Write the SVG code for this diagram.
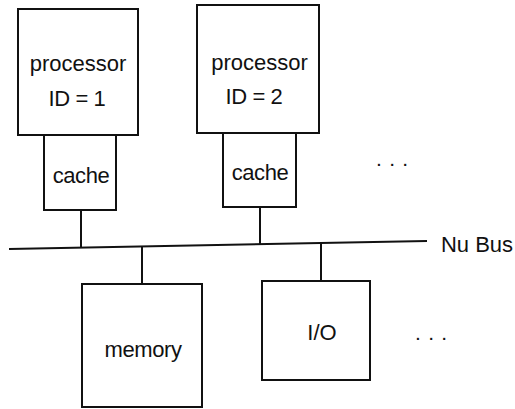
<svg xmlns="http://www.w3.org/2000/svg" width="515" height="409" viewBox="0 0 515 409">
  <style>
    .box { fill: #ffffff; stroke: #111111; stroke-width: 2; }
    .wire { fill: none; stroke: #111111; stroke-width: 2; }
    .label { font-family: "Liberation Sans", Arial, Helvetica, sans-serif; font-size: 22px; fill: #111111; text-anchor: middle; }
    .tight { letter-spacing: -0.4px; }
    .dots { font-family: "Liberation Sans", Arial, Helvetica, sans-serif; font-size: 21px; fill: #111111; letter-spacing: 7.3px; }
  </style>
  <rect width="515" height="409" fill="#ffffff"/>

  <!-- bus and the links from each unit onto it -->
  <g id="connectors">
    <line id="nubus" class="wire" x1="9" y1="249" x2="427" y2="241"/>
    <line class="wire" x1="81" y1="210" x2="81" y2="247.5"/>
    <line class="wire" x1="260" y1="207" x2="260" y2="245"/>
    <line class="wire" x1="142" y1="246.5" x2="142" y2="284"/>
    <line class="wire" x1="321" y1="244" x2="321" y2="281"/>
  </g>

  <g id="processor1">
    <rect class="box" x="18" y="9" width="120" height="126"/>
    <text class="label" x="78" y="71">processor</text>
    <text class="label tight" x="77" y="106">ID = 1</text>
  </g>
  <g id="cache1">
    <rect class="box" x="44" y="135" width="72" height="75"/>
    <text class="label tight" x="81" y="183">cache</text>
  </g>

  <g id="processor2">
    <rect class="box" x="197" y="5" width="122" height="128"/>
    <text class="label" x="259.5" y="70">processor</text>
    <text class="label tight" x="254" y="104">ID = 2</text>
  </g>
  <g id="cache2">
    <rect class="box" x="223" y="133" width="73" height="74"/>
    <text class="label tight" x="260" y="180">cache</text>
  </g>

  <g id="more-processors">
    <text class="dots" x="376" y="165.5">...</text>
  </g>

  <g id="bus-label">
    <text class="label" x="477" y="252">Nu Bus</text>
  </g>

  <g id="memory">
    <rect class="box" x="82" y="284" width="120" height="123"/>
    <text class="label tight" x="143" y="357">memory</text>
  </g>

  <g id="io">
    <rect class="box" x="262" y="281" width="108" height="99"/>
    <text class="label" x="322" y="340">I/O</text>
  </g>

  <g id="more-devices">
    <text class="dots" x="415" y="339.5">...</text>
  </g>
</svg>
